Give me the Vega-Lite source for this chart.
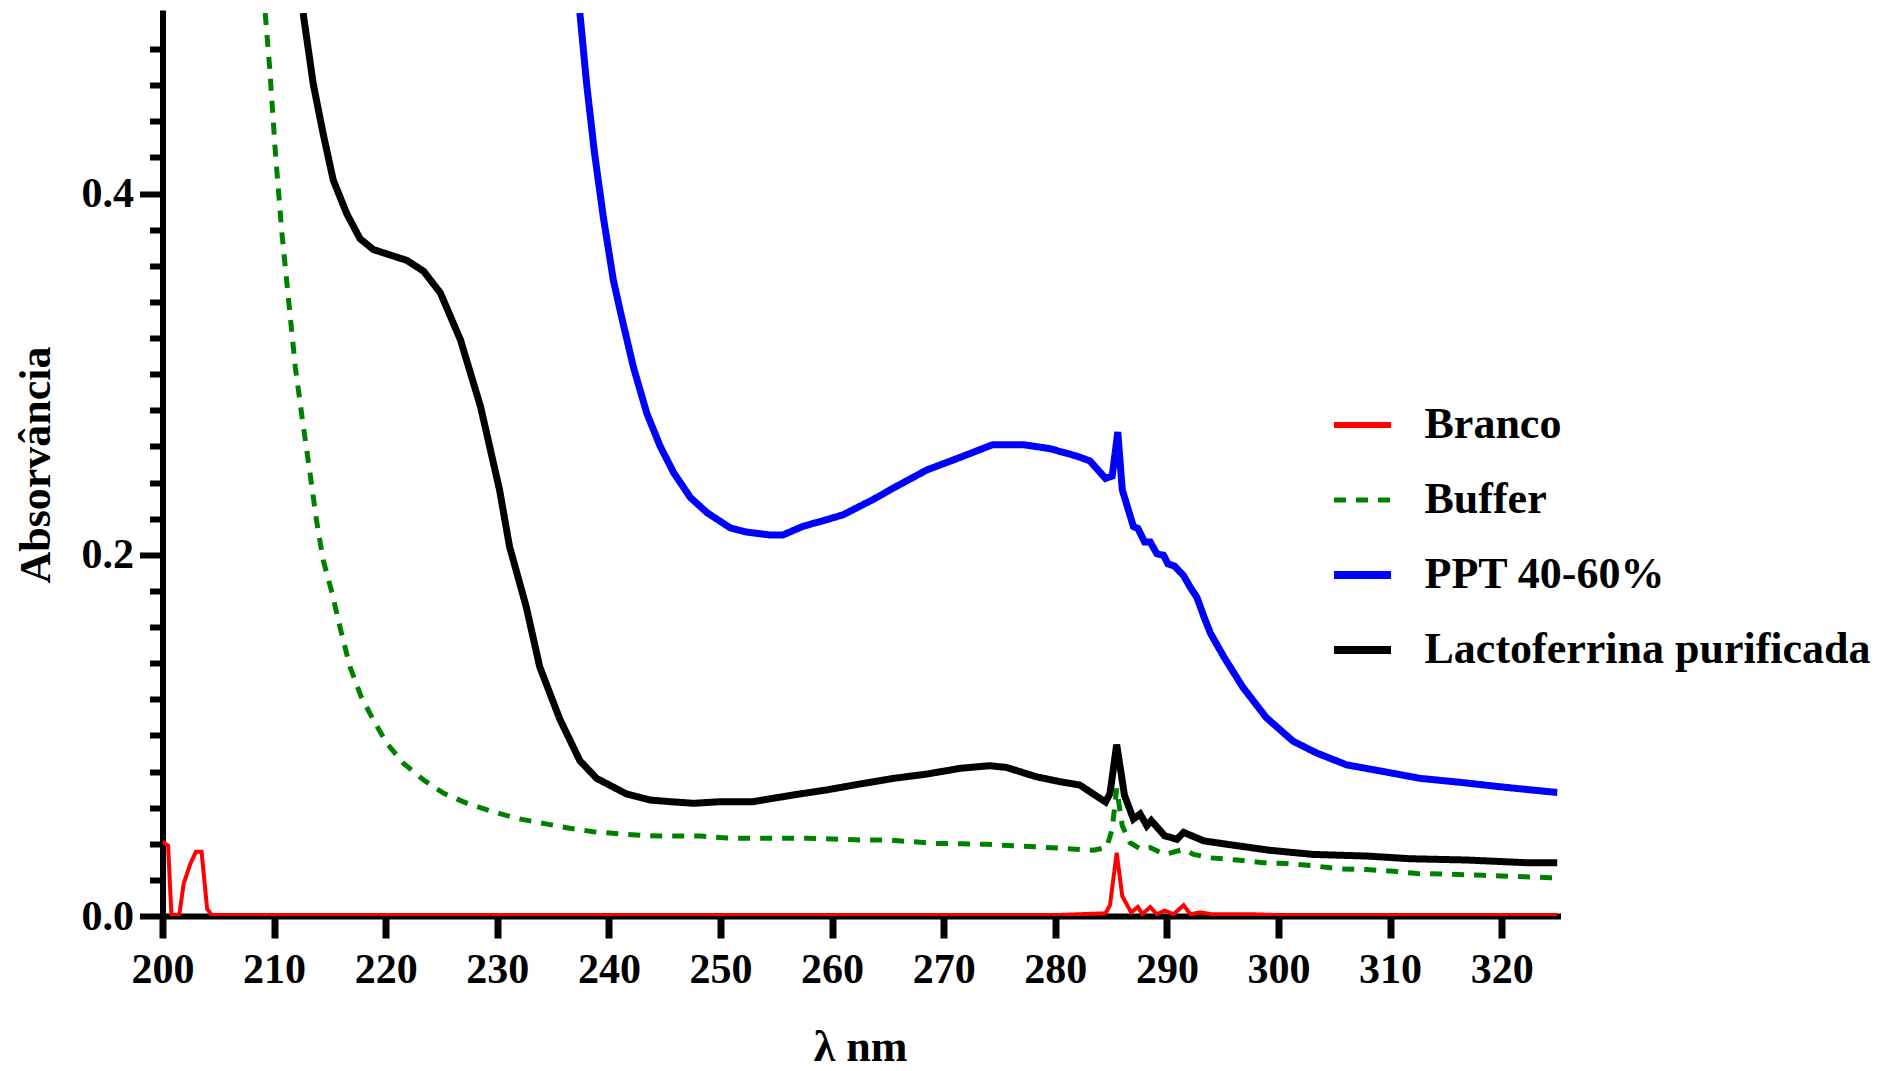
{
  "$schema": "https://vega.github.io/schema/vega-lite/v6.json",
  "autosize": {"type": "none"},
  "padding": {"left": 162.5, "top": 13, "right": 340.5, "bottom": 155},
  "width": 1395,
  "height": 903,
  "background": "white",
  "config": {
    "view": {"stroke": null},
    "font": "Liberation Serif",
    "axis": {"grid": false, "domainColor": "black", "tickColor": "black", "labelColor": "black", "titleColor": "black",
             "labelFont": "Liberation Serif", "titleFont": "Liberation Serif", "labelFontWeight": "bold", "titleFontWeight": "bold"}
  },
  "datasets": {
    "spectra": [
      {"s": "Branco", "x": 200, "y": 0.041},
      {"s": "Branco", "x": 200.5, "y": 0.039},
      {"s": "Branco", "x": 200.8, "y": 0.0005},
      {"s": "Branco", "x": 201.5, "y": 0.0005},
      {"s": "Branco", "x": 201.9, "y": 0.018},
      {"s": "Branco", "x": 202.5, "y": 0.029},
      {"s": "Branco", "x": 203.0, "y": 0.0356},
      {"s": "Branco", "x": 203.5, "y": 0.0356},
      {"s": "Branco", "x": 204.0, "y": 0.004},
      {"s": "Branco", "x": 204.4, "y": 0.0005},
      {"s": "Branco", "x": 210, "y": 0.0005},
      {"s": "Branco", "x": 220, "y": 0.0005},
      {"s": "Branco", "x": 230, "y": 0.0005},
      {"s": "Branco", "x": 240, "y": 0.0005},
      {"s": "Branco", "x": 250, "y": 0.0005},
      {"s": "Branco", "x": 260, "y": 0.0005},
      {"s": "Branco", "x": 270, "y": 0.0005},
      {"s": "Branco", "x": 280, "y": 0.0005},
      {"s": "Branco", "x": 284.5, "y": 0.0015},
      {"s": "Branco", "x": 284.9, "y": 0.006},
      {"s": "Branco", "x": 285.5, "y": 0.035},
      {"s": "Branco", "x": 286.0, "y": 0.011},
      {"s": "Branco", "x": 286.8, "y": 0.002},
      {"s": "Branco", "x": 287.4, "y": 0.005},
      {"s": "Branco", "x": 287.8, "y": 0.001},
      {"s": "Branco", "x": 288.5, "y": 0.005},
      {"s": "Branco", "x": 289.1, "y": 0.001},
      {"s": "Branco", "x": 289.8, "y": 0.003},
      {"s": "Branco", "x": 290.6, "y": 0.001},
      {"s": "Branco", "x": 291.5, "y": 0.006},
      {"s": "Branco", "x": 292.1, "y": 0.001},
      {"s": "Branco", "x": 293.0, "y": 0.002},
      {"s": "Branco", "x": 294.0, "y": 0.001},
      {"s": "Branco", "x": 297.5, "y": 0.001},
      {"s": "Branco", "x": 300, "y": 0.0005},
      {"s": "Branco", "x": 310, "y": 0.0005},
      {"s": "Branco", "x": 320, "y": 0.0005},
      {"s": "Branco", "x": 325, "y": 0.0005},

      {"s": "Buffer", "x": 209.2, "y": 0.5},
      {"s": "Buffer", "x": 209.6, "y": 0.47},
      {"s": "Buffer", "x": 210.1, "y": 0.424},
      {"s": "Buffer", "x": 210.7, "y": 0.378},
      {"s": "Buffer", "x": 211.3, "y": 0.341},
      {"s": "Buffer", "x": 211.9, "y": 0.304},
      {"s": "Buffer", "x": 212.5, "y": 0.2765},
      {"s": "Buffer", "x": 213.4, "y": 0.237},
      {"s": "Buffer", "x": 213.8, "y": 0.219},
      {"s": "Buffer", "x": 214.4, "y": 0.197},
      {"s": "Buffer", "x": 215.2, "y": 0.1787},
      {"s": "Buffer", "x": 215.9, "y": 0.16},
      {"s": "Buffer", "x": 216.8, "y": 0.138},
      {"s": "Buffer", "x": 217.8, "y": 0.1214},
      {"s": "Buffer", "x": 218.9, "y": 0.1085},
      {"s": "Buffer", "x": 220.1, "y": 0.0956},
      {"s": "Buffer", "x": 221.6, "y": 0.0845},
      {"s": "Buffer", "x": 223.4, "y": 0.0753},
      {"s": "Buffer", "x": 225.2, "y": 0.0679},
      {"s": "Buffer", "x": 227.3, "y": 0.0624},
      {"s": "Buffer", "x": 229.6, "y": 0.0578},
      {"s": "Buffer", "x": 231.7, "y": 0.0541},
      {"s": "Buffer", "x": 234.1, "y": 0.0513},
      {"s": "Buffer", "x": 236.5, "y": 0.0486},
      {"s": "Buffer", "x": 238.6, "y": 0.0467},
      {"s": "Buffer", "x": 241.0, "y": 0.0454},
      {"s": "Buffer", "x": 243.4, "y": 0.0444},
      {"s": "Buffer", "x": 245.8, "y": 0.0443},
      {"s": "Buffer", "x": 248.2, "y": 0.0443},
      {"s": "Buffer", "x": 250.6, "y": 0.0432},
      {"s": "Buffer", "x": 252.9, "y": 0.043},
      {"s": "Buffer", "x": 255.3, "y": 0.043},
      {"s": "Buffer", "x": 257.7, "y": 0.043},
      {"s": "Buffer", "x": 260.1, "y": 0.0426},
      {"s": "Buffer", "x": 262.5, "y": 0.0421},
      {"s": "Buffer", "x": 264.9, "y": 0.0421},
      {"s": "Buffer", "x": 267.3, "y": 0.0411},
      {"s": "Buffer", "x": 269.4, "y": 0.0402},
      {"s": "Buffer", "x": 271.5, "y": 0.04},
      {"s": "Buffer", "x": 273.9, "y": 0.0397},
      {"s": "Buffer", "x": 276.2, "y": 0.0389},
      {"s": "Buffer", "x": 278.6, "y": 0.0382},
      {"s": "Buffer", "x": 281.0, "y": 0.0373},
      {"s": "Buffer", "x": 283.4, "y": 0.0364},
      {"s": "Buffer", "x": 284.6, "y": 0.0379},
      {"s": "Buffer", "x": 285.1, "y": 0.0482},
      {"s": "Buffer", "x": 285.5, "y": 0.0706},
      {"s": "Buffer", "x": 286.0, "y": 0.05},
      {"s": "Buffer", "x": 286.7, "y": 0.0406},
      {"s": "Buffer", "x": 287.7, "y": 0.0369},
      {"s": "Buffer", "x": 288.5, "y": 0.0379},
      {"s": "Buffer", "x": 289.8, "y": 0.0341},
      {"s": "Buffer", "x": 291.5, "y": 0.0369},
      {"s": "Buffer", "x": 292.4, "y": 0.0341},
      {"s": "Buffer", "x": 293.9, "y": 0.0322},
      {"s": "Buffer", "x": 296.3, "y": 0.031},
      {"s": "Buffer", "x": 298.6, "y": 0.0295},
      {"s": "Buffer", "x": 300.7, "y": 0.0291},
      {"s": "Buffer", "x": 303.4, "y": 0.0276},
      {"s": "Buffer", "x": 305.5, "y": 0.0261},
      {"s": "Buffer", "x": 307.9, "y": 0.0257},
      {"s": "Buffer", "x": 310.3, "y": 0.0248},
      {"s": "Buffer", "x": 312.4, "y": 0.0235},
      {"s": "Buffer", "x": 315.4, "y": 0.0231},
      {"s": "Buffer", "x": 318.4, "y": 0.0225},
      {"s": "Buffer", "x": 321.3, "y": 0.0219},
      {"s": "Buffer", "x": 324.3, "y": 0.0212},
      {"s": "Buffer", "x": 325, "y": 0.0212},

      {"s": "PPT 40-60%", "x": 237.4, "y": 0.5},
      {"s": "PPT 40-60%", "x": 238.0, "y": 0.461},
      {"s": "PPT 40-60%", "x": 238.7, "y": 0.423},
      {"s": "PPT 40-60%", "x": 239.5, "y": 0.387},
      {"s": "PPT 40-60%", "x": 240.4, "y": 0.352},
      {"s": "PPT 40-60%", "x": 241.2, "y": 0.33},
      {"s": "PPT 40-60%", "x": 242.2, "y": 0.3038},
      {"s": "PPT 40-60%", "x": 243.4, "y": 0.2783},
      {"s": "PPT 40-60%", "x": 244.6, "y": 0.26},
      {"s": "PPT 40-60%", "x": 245.8, "y": 0.2455},
      {"s": "PPT 40-60%", "x": 247.3, "y": 0.2317},
      {"s": "PPT 40-60%", "x": 248.8, "y": 0.2233},
      {"s": "PPT 40-60%", "x": 250.9, "y": 0.2148},
      {"s": "PPT 40-60%", "x": 252.3, "y": 0.2126},
      {"s": "PPT 40-60%", "x": 254.4, "y": 0.211},
      {"s": "PPT 40-60%", "x": 255.6, "y": 0.211},
      {"s": "PPT 40-60%", "x": 257.4, "y": 0.2158},
      {"s": "PPT 40-60%", "x": 259.5, "y": 0.2194},
      {"s": "PPT 40-60%", "x": 261.0, "y": 0.2222},
      {"s": "PPT 40-60%", "x": 263.7, "y": 0.2307},
      {"s": "PPT 40-60%", "x": 265.5, "y": 0.237},
      {"s": "PPT 40-60%", "x": 268.5, "y": 0.247},
      {"s": "PPT 40-60%", "x": 271.5, "y": 0.254},
      {"s": "PPT 40-60%", "x": 274.4, "y": 0.261},
      {"s": "PPT 40-60%", "x": 277.1, "y": 0.261},
      {"s": "PPT 40-60%", "x": 279.5, "y": 0.2588},
      {"s": "PPT 40-60%", "x": 281.9, "y": 0.2547},
      {"s": "PPT 40-60%", "x": 283.1, "y": 0.252},
      {"s": "PPT 40-60%", "x": 284.5, "y": 0.2423},
      {"s": "PPT 40-60%", "x": 285.1, "y": 0.2436},
      {"s": "PPT 40-60%", "x": 285.6, "y": 0.268},
      {"s": "PPT 40-60%", "x": 286.0, "y": 0.236},
      {"s": "PPT 40-60%", "x": 287.0, "y": 0.2156},
      {"s": "PPT 40-60%", "x": 287.4, "y": 0.2146},
      {"s": "PPT 40-60%", "x": 288.0, "y": 0.2071},
      {"s": "PPT 40-60%", "x": 288.5, "y": 0.2071},
      {"s": "PPT 40-60%", "x": 289.1, "y": 0.2006},
      {"s": "PPT 40-60%", "x": 289.7, "y": 0.1997},
      {"s": "PPT 40-60%", "x": 290.1, "y": 0.195},
      {"s": "PPT 40-60%", "x": 290.7, "y": 0.1937},
      {"s": "PPT 40-60%", "x": 291.5, "y": 0.1884},
      {"s": "PPT 40-60%", "x": 292.1, "y": 0.1819},
      {"s": "PPT 40-60%", "x": 292.7, "y": 0.1763},
      {"s": "PPT 40-60%", "x": 293.3, "y": 0.166},
      {"s": "PPT 40-60%", "x": 293.9, "y": 0.1566},
      {"s": "PPT 40-60%", "x": 295.1, "y": 0.1435},
      {"s": "PPT 40-60%", "x": 296.8, "y": 0.1267},
      {"s": "PPT 40-60%", "x": 298.9, "y": 0.1099},
      {"s": "PPT 40-60%", "x": 301.3, "y": 0.0968},
      {"s": "PPT 40-60%", "x": 303.4, "y": 0.0903},
      {"s": "PPT 40-60%", "x": 306.1, "y": 0.0837},
      {"s": "PPT 40-60%", "x": 309.4, "y": 0.08},
      {"s": "PPT 40-60%", "x": 312.7, "y": 0.0762},
      {"s": "PPT 40-60%", "x": 316.3, "y": 0.074},
      {"s": "PPT 40-60%", "x": 319.8, "y": 0.0716},
      {"s": "PPT 40-60%", "x": 322.8, "y": 0.0697},
      {"s": "PPT 40-60%", "x": 325, "y": 0.0684},

      {"s": "Lactoferrina purificada", "x": 212.6, "y": 0.5},
      {"s": "Lactoferrina purificada", "x": 213.5, "y": 0.461},
      {"s": "Lactoferrina purificada", "x": 214.4, "y": 0.433},
      {"s": "Lactoferrina purificada", "x": 215.3, "y": 0.4075},
      {"s": "Lactoferrina purificada", "x": 216.5, "y": 0.389},
      {"s": "Lactoferrina purificada", "x": 217.7, "y": 0.375},
      {"s": "Lactoferrina purificada", "x": 218.9, "y": 0.369},
      {"s": "Lactoferrina purificada", "x": 221.9, "y": 0.363},
      {"s": "Lactoferrina purificada", "x": 223.4, "y": 0.357},
      {"s": "Lactoferrina purificada", "x": 224.9, "y": 0.345},
      {"s": "Lactoferrina purificada", "x": 226.7, "y": 0.319},
      {"s": "Lactoferrina purificada", "x": 228.5, "y": 0.282},
      {"s": "Lactoferrina purificada", "x": 230.2, "y": 0.236},
      {"s": "Lactoferrina purificada", "x": 231.1, "y": 0.2045},
      {"s": "Lactoferrina purificada", "x": 232.6, "y": 0.171},
      {"s": "Lactoferrina purificada", "x": 233.8, "y": 0.138},
      {"s": "Lactoferrina purificada", "x": 235.6, "y": 0.109},
      {"s": "Lactoferrina purificada", "x": 237.4, "y": 0.086},
      {"s": "Lactoferrina purificada", "x": 238.9, "y": 0.0762},
      {"s": "Lactoferrina purificada", "x": 241.6, "y": 0.0675},
      {"s": "Lactoferrina purificada", "x": 243.7, "y": 0.0642},
      {"s": "Lactoferrina purificada", "x": 245.5, "y": 0.0633},
      {"s": "Lactoferrina purificada", "x": 247.6, "y": 0.0624},
      {"s": "Lactoferrina purificada", "x": 250.0, "y": 0.0633},
      {"s": "Lactoferrina purificada", "x": 252.9, "y": 0.0633},
      {"s": "Lactoferrina purificada", "x": 256.5, "y": 0.067},
      {"s": "Lactoferrina purificada", "x": 259.5, "y": 0.0698},
      {"s": "Lactoferrina purificada", "x": 262.5, "y": 0.0731},
      {"s": "Lactoferrina purificada", "x": 265.5, "y": 0.0762},
      {"s": "Lactoferrina purificada", "x": 268.5, "y": 0.0786},
      {"s": "Lactoferrina purificada", "x": 271.5, "y": 0.0818},
      {"s": "Lactoferrina purificada", "x": 274.1, "y": 0.0832},
      {"s": "Lactoferrina purificada", "x": 275.6, "y": 0.0823},
      {"s": "Lactoferrina purificada", "x": 278.3, "y": 0.0771},
      {"s": "Lactoferrina purificada", "x": 280.4, "y": 0.0744},
      {"s": "Lactoferrina purificada", "x": 282.2, "y": 0.0725},
      {"s": "Lactoferrina purificada", "x": 284.5, "y": 0.0631},
      {"s": "Lactoferrina purificada", "x": 284.9, "y": 0.0678},
      {"s": "Lactoferrina purificada", "x": 285.5, "y": 0.0949},
      {"s": "Lactoferrina purificada", "x": 286.2, "y": 0.0668},
      {"s": "Lactoferrina purificada", "x": 287.0, "y": 0.0537},
      {"s": "Lactoferrina purificada", "x": 287.6, "y": 0.0565},
      {"s": "Lactoferrina purificada", "x": 288.2, "y": 0.05},
      {"s": "Lactoferrina purificada", "x": 288.6, "y": 0.0528},
      {"s": "Lactoferrina purificada", "x": 289.8, "y": 0.0444},
      {"s": "Lactoferrina purificada", "x": 290.9, "y": 0.0425},
      {"s": "Lactoferrina purificada", "x": 291.5, "y": 0.0463},
      {"s": "Lactoferrina purificada", "x": 293.3, "y": 0.0416},
      {"s": "Lactoferrina purificada", "x": 295.4, "y": 0.0397},
      {"s": "Lactoferrina purificada", "x": 299.2, "y": 0.0364},
      {"s": "Lactoferrina purificada", "x": 303.1, "y": 0.0341},
      {"s": "Lactoferrina purificada", "x": 307.9, "y": 0.0332},
      {"s": "Lactoferrina purificada", "x": 311.8, "y": 0.0317},
      {"s": "Lactoferrina purificada", "x": 316.9, "y": 0.031},
      {"s": "Lactoferrina purificada", "x": 322.2, "y": 0.0295},
      {"s": "Lactoferrina purificada", "x": 325, "y": 0.0295}
    ]
  },
  "data": {"name": "spectra"},
  "encoding": {
    "x": {
      "field": "x", "type": "quantitative",
      "scale": {"domain": [200, 325], "nice": false, "zero": false},
      "axis": {
        "title": "λ nm", "titleFontSize": 44, "titlePadding": 35,
        "values": [200, 210, 220, 230, 240, 250, 260, 270, 280, 290, 300, 310, 320],
        "labelFontSize": 42, "labelPadding": 11, "labelFlush": false,
        "tickSize": 22, "tickWidth": 7, "domainWidth": 6, "domainCap": "square"
      }
    },
    "y": {
      "field": "y", "type": "quantitative",
      "scale": {"domain": [0, 0.5], "nice": false},
      "axis": {
        "title": "Absorvância", "titleFontSize": 44, "titlePadding": 23,
        "values": [0, 0.02, 0.04, 0.06, 0.08, 0.1, 0.12, 0.14, 0.16, 0.18, 0.2, 0.22, 0.24, 0.26, 0.28, 0.3, 0.32, 0.34, 0.36, 0.38, 0.4, 0.42, 0.44, 0.46, 0.48],
        "labelExpr": "abs(datum.value * 5 - round(datum.value * 5)) < 0.001 ? format(datum.value, '.1f') : ''",
        "labelFontSize": 42, "labelPadding": 6, "labelFlush": false,
        "tickSize": {"condition": {"test": "abs(datum.value * 5 - round(datum.value * 5)) < 0.001", "value": 23}, "value": 13},
        "tickWidth": 6, "domainWidth": 6, "domainCap": "square"
      }
    },
    "color": {
      "field": "s", "type": "nominal",
      "scale": {"domain": ["Branco", "Buffer", "PPT 40-60%", "Lactoferrina purificada"], "range": ["#ff0000", "#008000", "#0000ff", "#000000"]},
      "legend": {
        "title": null, "orient": "none", "legendX": 1178, "legendY": 390,
        "symbolType": "stroke", "symbolSize": 3249, "labelFontSize": 44, "labelFont": "Liberation Serif",
        "labelFontWeight": "bold", "labelColor": "black", "labelLimit": 700, "labelOffset": 40, "rowPadding": 31, "padding": 0,
        "encode": {"symbols": {"update": {"strokeWidth": {"signal": "datum.value === 'Branco' ? 6 : datum.value === 'Buffer' ? 5 : 8"}}}}
      }
    },
    "strokeDash": {
      "field": "s", "type": "nominal",
      "scale": {"domain": ["Branco", "Buffer", "PPT 40-60%", "Lactoferrina purificada"], "range": [[1, 0], [12, 10], [1, 0], [1, 0]]}
    }
  },
  "layer": [
    {"transform": [{"filter": "datum.s === 'Lactoferrina purificada'"}], "mark": {"type": "line", "clip": true, "strokeWidth": 7}},
    {"transform": [{"filter": "datum.s === 'PPT 40-60%'"}], "mark": {"type": "line", "clip": true, "strokeWidth": 7}},
    {"transform": [{"filter": "datum.s === 'Buffer'"}], "mark": {"type": "line", "clip": true, "strokeWidth": 5}},
    {"transform": [{"filter": "datum.s === 'Branco'"}], "mark": {"type": "line", "clip": true, "strokeWidth": 4}}
  ]
}
